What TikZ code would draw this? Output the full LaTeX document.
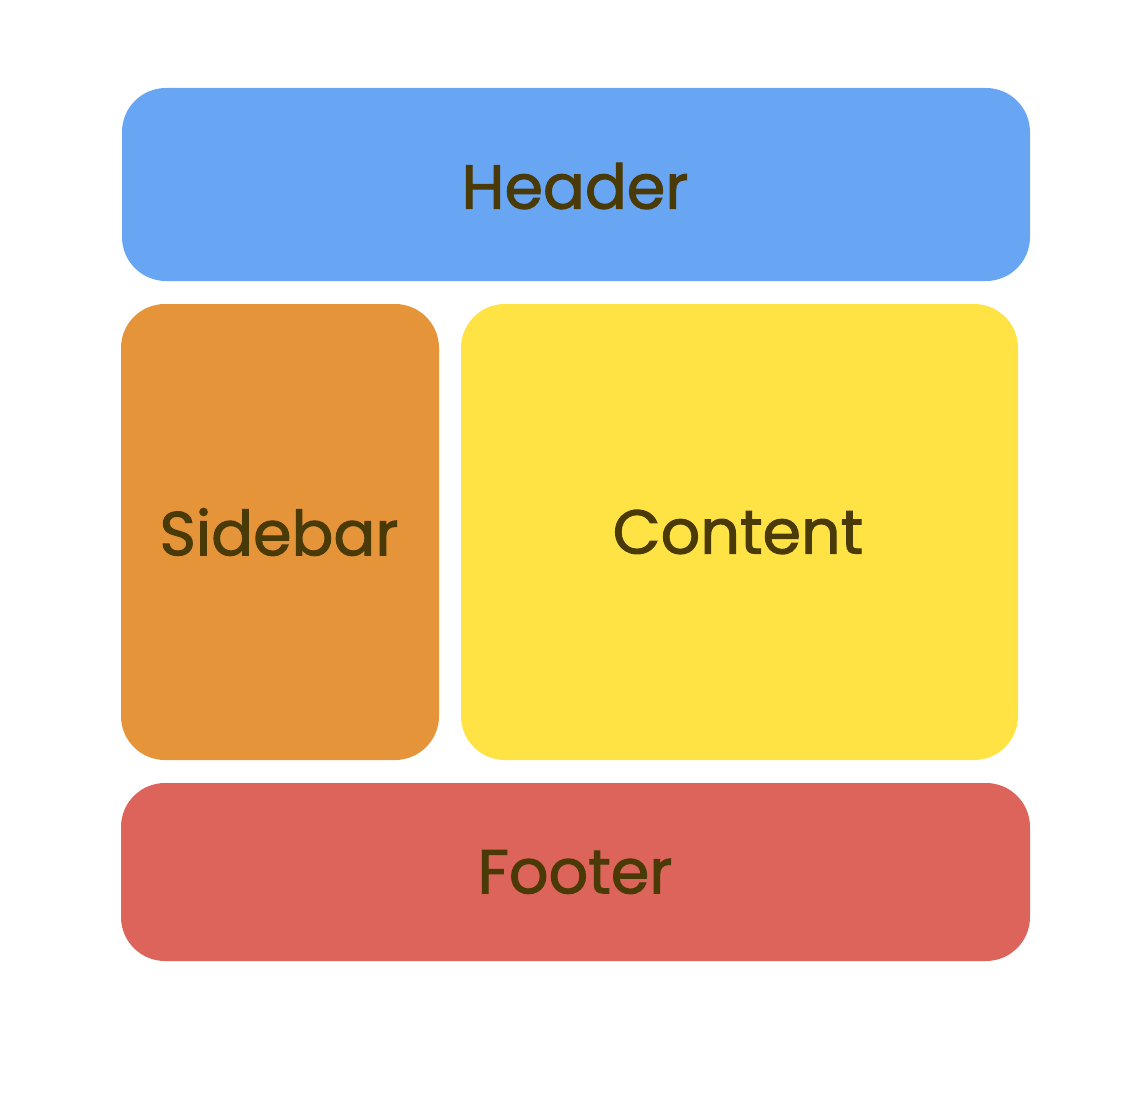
\documentclass[tikz,border=0pt]{standalone}
\usepackage{fontspec}
\setmainfont{Poppins}
\newfontfamily\lblfont{Poppins}[FakeBold=1.6]
\definecolor{hdr}{HTML}{68A6F4}
\definecolor{sdb}{HTML}{E5943A}
\definecolor{cnt}{HTML}{FFE345}
\definecolor{ftr}{HTML}{DC645B}
\definecolor{txt}{HTML}{4A3A08}
\begin{document}
\begin{tikzpicture}[x=1pt,y=-1pt,
  panel/.style={rounded corners=44pt, draw=none},
  lbl/.style={text=txt, font=\lblfont\fontsize{62}{70}\selectfont, inner sep=0pt, anchor=center}]
\useasboundingbox[fill=white] (0,0) rectangle (1122,1094);
\fill[panel, hdr] (122,88) rectangle (1030,281);
\fill[panel, sdb] (121,304) rectangle (439,760);
\fill[panel, cnt] (461,304) rectangle (1018,760);
\fill[panel, ftr] (121,783) rectangle (1030,961);
\node[lbl] (header) at (575,186) {Header};
\node[lbl] (sidebar) at (279,532) {Sidebar};
\node[lbl] (content) at (738,532) {Content};
\node[lbl] (footer) at (575,872) {Footer};
\end{tikzpicture}
\end{document}
